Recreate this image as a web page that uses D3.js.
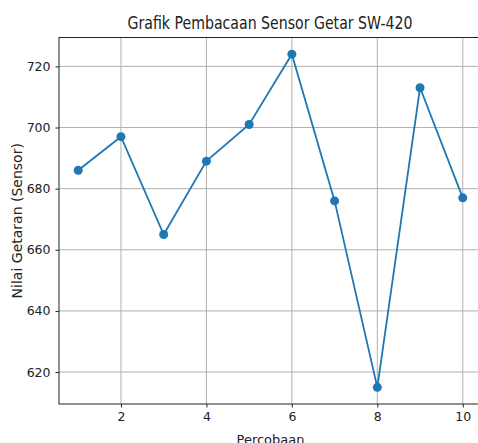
<!DOCTYPE html>
<html>
<head>
<meta charset="utf-8">
<script src="https://cdn.jsdelivr.net/npm/d3@7"></script>
<style>
  body { margin: 0; background: #fff; }
  svg { display: block; font-family: "DejaVu Sans", sans-serif; }
</style>
</head>
<body>
<div id="chart"></div>
<script>
// Sensor readings per trial
const percobaan = [1, 2, 3, 4, 5, 6, 7, 8, 9, 10];
const nilaiGetaran = [686, 697, 665, 689, 701, 724, 676, 615, 713, 677];
const xTicks = [2, 4, 6, 8, 10];
const yTicks = [620, 640, 660, 680, 700, 720];

const W = 478, H = 443;
const margin = { top: 37.5, right: -4, bottom: 39, left: 59 };
const width = W - margin.left - margin.right;
const height = H - margin.top - margin.bottom;

const svg = d3.select("#chart")
  .append("svg")
  .attr("width", W)
  .attr("height", H);

const g = svg.append("g")
  .attr("transform", `translate(${margin.left},${margin.top})`);

// matplotlib-like 5% margins
const xExt = d3.extent(percobaan), yExt = d3.extent(nilaiGetaran);
const xPad = (xExt[1] - xExt[0]) * 0.05, yPad = (yExt[1] - yExt[0]) * 0.05;

const x = d3.scaleLinear()
  .domain([xExt[0] - xPad, xExt[1] + xPad])
  .range([0, width]);
const y = d3.scaleLinear()
  .domain([yExt[0] - yPad, yExt[1] + yPad])
  .range([height, 0]);

// grid
g.append("g").selectAll("line")
  .data(xTicks).enter().append("line")
  .attr("x1", d => x(d)).attr("x2", d => x(d))
  .attr("y1", 0).attr("y2", height)
  .attr("stroke", "#b0b0b0").attr("stroke-width", 1);
g.append("g").selectAll("line")
  .data(yTicks).enter().append("line")
  .attr("x1", 0).attr("x2", width)
  .attr("y1", d => y(d)).attr("y2", d => y(d))
  .attr("stroke", "#b0b0b0").attr("stroke-width", 1);

// axes
const xAxis = g.append("g")
  .attr("transform", `translate(0,${height})`)
  .call(d3.axisBottom(x).tickValues(xTicks).tickSize(3.5).tickPadding(5).tickSizeOuter(0));
const yAxis = g.append("g")
  .call(d3.axisLeft(y).tickValues(yTicks).tickSize(3.5).tickPadding(5).tickSizeOuter(0));
[xAxis, yAxis].forEach(a => {
  a.selectAll("text").attr("font-size", 12.5).attr("fill", "#222").attr("font-family", "DejaVu Sans");
  a.selectAll(".tick line").attr("stroke", "#222");
  a.select(".domain").remove();
});

// spines
g.append("rect")
  .attr("x", 0).attr("y", 0)
  .attr("width", width).attr("height", height)
  .attr("fill", "none").attr("stroke", "#222").attr("stroke-width", 1);

// line + markers
const line = d3.line()
  .x((d, i) => x(percobaan[i]))
  .y(d => y(d));
g.append("path")
  .datum(nilaiGetaran)
  .attr("d", line)
  .attr("fill", "none")
  .attr("stroke", "#1f77b4")
  .attr("stroke-width", 1.8);
g.selectAll(".dot")
  .data(nilaiGetaran).enter().append("circle")
  .attr("class", "dot")
  .attr("cx", (d, i) => x(percobaan[i]))
  .attr("cy", d => y(d))
  .attr("r", 4.5)
  .attr("fill", "#1f77b4");

// title + labels
svg.append("text")
  .attr("x", 270).attr("y", 29)
  .attr("text-anchor", "middle")
  .attr("font-size", 17).attr("fill", "#222")
  .attr("textLength", 285).attr("lengthAdjust", "spacingAndGlyphs")
  .text("Grafik Pembacaan Sensor Getar SW-420");
svg.append("text")
  .attr("x", margin.left + width / 2).attr("y", 444)
  .attr("text-anchor", "middle")
  .attr("font-size", 13).attr("fill", "#222")
  .text("Percobaan");
svg.append("text")
  .attr("transform", `translate(22,${margin.top + height / 2}) rotate(-90)`)
  .attr("text-anchor", "middle")
  .attr("font-size", 14).attr("fill", "#222")
  .text("Nilai Getaran (Sensor)");
</script>
</body>
</html>
